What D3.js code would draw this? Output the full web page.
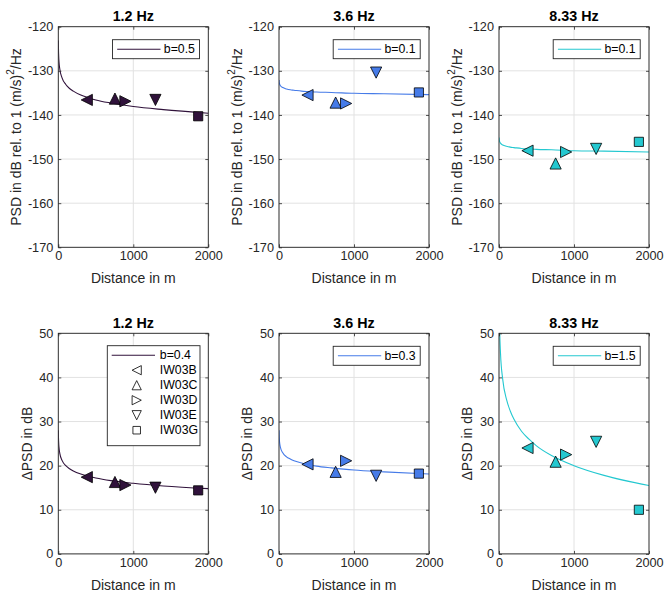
<!DOCTYPE html>
<html><head><meta charset="utf-8">
<script src="https://cdn.jsdelivr.net/npm/d3@7"></script>
<style>body{margin:0;background:#fff}</style>
</head><body><svg id="c" width="665" height="595"></svg>
<script>
// ---------- data ----------
const frequencies = ["1.2 Hz", "3.6 Hz", "8.33 Hz"];
const stations = ["IW03B", "IW03C", "IW03D", "IW03E", "IW03G"];
const stationDistance = [380, 755, 895, 1295, 1865];

const psd_1_2  = [-136.6, -136.3, -136.9, -136.6, -140.3];
const psd_3_6  = [-135.5, -137.2, -137.4, -130.4, -134.9];
const psd_8_33 = [-148.1, -151.0, -148.4, -147.7, -146.1];

const dpsd_1_2  = [17.4, 16.3, 15.6, 15.0, 14.4];
const dpsd_3_6  = [20.3, 18.6, 21.1, 17.7, 18.2];
const dpsd_8_33 = [24.0, 20.9, 22.5, 25.4, 10.0];

const curveDistance = [1, 2, 5, 10, 20, 50, 100, 150, 200, 300, 400, 500, 700, 1000, 1400, 2000];
const psdFit_1_2  = [-123.1, -124.6, -126.6, -128.1, -129.6, -131.6, -133.1, -134.0, -134.6, -135.5, -136.1, -136.6, -137.3, -138.1, -138.8, -139.6];
const psdFit_3_6  = [-132.1, -132.4, -132.8, -133.1, -133.4, -133.8, -134.1, -134.3, -134.4, -134.6, -134.7, -134.8, -134.9, -135.1, -135.2, -135.4];
const psdFit_8_33 = [-145.1, -145.4, -145.8, -146.1, -146.4, -146.8, -147.1, -147.3, -147.4, -147.6, -147.7, -147.8, -147.9, -148.1, -148.2, -148.4];
const dpsdFit_1_2  = [28.0, 26.8, 25.2, 24.0, 22.8, 21.2, 20.0, 19.3, 18.8, 18.1, 17.6, 17.2, 16.6, 16.0, 15.4, 14.8];
const dpsdFit_3_6  = [28.0, 27.1, 25.9, 25.0, 24.1, 22.9, 22.0, 21.5, 21.1, 20.6, 20.2, 19.9, 19.5, 19.0, 18.6, 18.1];
const dpsdFit_8_33 = [65.0, 60.5, 54.5, 50.0, 45.5, 39.5, 35.0, 32.4, 30.5, 27.8, 26.0, 24.5, 22.3, 20.0, 17.8, 15.5];

const psdFitLabel  = ["b=0.5", "b=0.1", "b=0.1"];
const dpsdFitLabel = ["b=0.4", "b=0.3", "b=1.5"];

const psdTicks = [-170, -160, -150, -140, -130, -120];
const dpsdTicks = [0, 10, 20, 30, 40, 50];
const distanceTicks = [0, 1000, 2000];

// ---------- styling / layout ----------
const colors = ["#30123b", "#467be8", "#24c8d0"];
const colLeft = [58.3, 279, 499];
const rowTop = [26.7, 333.3];
const W = 150, H = 220.6;
const FONT = "'Liberation Sans', Arial, Helvetica, sans-serif";
const AX = "#262626";

const svg = d3.select("#c");
const defs = svg.append("defs");

function markerPath(shape, s) {
  // s: half-size
  const p = d3.path();
  if (shape === 0) { p.moveTo(-s, 0); p.lineTo(s, -s); p.lineTo(s, s); p.closePath(); }
  else if (shape === 1) { p.moveTo(0, -s); p.lineTo(s, s); p.lineTo(-s, s); p.closePath(); }
  else if (shape === 2) { p.moveTo(s, 0); p.lineTo(-s, -s); p.lineTo(-s, s); p.closePath(); }
  else if (shape === 3) { p.moveTo(0, s); p.lineTo(s, -s); p.lineTo(-s, -s); p.closePath(); }
  else { const q = s * 0.82; p.rect(-q, -q, 2 * q, 2 * q); }
  return p.toString();
}

const panels = [
  { row: 0, col: 0, vals: psd_1_2,  fit: psdFit_1_2,  lab: psdFitLabel[0] },
  { row: 0, col: 1, vals: psd_3_6,  fit: psdFit_3_6,  lab: psdFitLabel[1] },
  { row: 0, col: 2, vals: psd_8_33, fit: psdFit_8_33, lab: psdFitLabel[2] },
  { row: 1, col: 0, vals: dpsd_1_2,  fit: dpsdFit_1_2,  lab: dpsdFitLabel[0], full: true },
  { row: 1, col: 1, vals: dpsd_3_6,  fit: dpsdFit_3_6,  lab: dpsdFitLabel[1] },
  { row: 1, col: 2, vals: dpsd_8_33, fit: dpsdFit_8_33, lab: dpsdFitLabel[2] },
];

panels.forEach((p, i) => {
  const x0 = colLeft[p.col], y0 = rowTop[p.row];
  const color = colors[p.col];
  const ticks = p.row === 0 ? psdTicks : dpsdTicks;
  const x = d3.scaleLinear().domain([0, 2000]).range([0, W]);
  const y = d3.scaleLinear().domain(d3.extent(ticks)).range([H, 0]);
  const g = svg.append("g").attr("transform", `translate(${x0},${y0})`);

  // grid
  g.append("g").selectAll("line.gx").data(distanceTicks).join("line")
    .attr("x1", d => x(d)).attr("x2", d => x(d)).attr("y1", 0).attr("y2", H)
    .attr("stroke", "#e2e2e2").attr("stroke-width", 1);
  g.append("g").selectAll("line.gy").data(ticks).join("line")
    .attr("y1", d => y(d)).attr("y2", d => y(d)).attr("x1", 0).attr("x2", W)
    .attr("stroke", "#e2e2e2").attr("stroke-width", 1);

  // clip
  const cid = "clip" + i;
  defs.append("clipPath").attr("id", cid).append("rect").attr("width", W).attr("height", H);

  // fit curve
  const line = d3.line().x((d, k) => x(curveDistance[k])).y(d => y(d)).curve(d3.curveMonotoneX);
  g.append("path").attr("clip-path", `url(#${cid})`).datum(p.fit)
    .attr("d", line).attr("fill", "none").attr("stroke", color).attr("stroke-width", 1.1);

  // markers
  g.append("g").selectAll("path").data(p.vals).join("path")
    .attr("transform", (d, k) => `translate(${x(stationDistance[k])},${y(d)})`)
    .attr("d", (d, k) => markerPath(k, 5.6))
    .attr("fill", color).attr("stroke", "#000").attr("stroke-width", 0.8)
    .attr("stroke-linejoin", "miter");

  // axes
  const fmt = d => String(d);
  const axL = g.append("g").call(d3.axisLeft(y).tickValues(ticks).tickFormat(fmt).tickSizeInner(-3).tickSizeOuter(0).tickPadding(5));
  const axB = g.append("g").attr("transform", `translate(0,${H})`).call(d3.axisBottom(x).tickValues(distanceTicks).tickFormat(fmt).tickSizeInner(-3).tickSizeOuter(0).tickPadding(4));
  const axR = g.append("g").attr("transform", `translate(${W},0)`).call(d3.axisRight(y).tickValues(ticks).tickFormat("").tickSizeInner(-3).tickSizeOuter(0));
  const axT = g.append("g").call(d3.axisTop(x).tickValues(distanceTicks).tickFormat("").tickSizeInner(-3).tickSizeOuter(0));
  [axL, axB, axR, axT].forEach(a => {
    a.select(".domain").remove();
    a.selectAll("line").attr("stroke", AX).attr("stroke-width", 0.8);
    a.selectAll("text").attr("fill", AX).style("font-family", FONT).style("font-size", "12.7px");
  });
  g.append("rect").attr("width", W).attr("height", H).attr("fill", "none")
    .attr("stroke", AX).attr("stroke-width", 0.9);

  // title
  g.append("text").attr("x", W / 2).attr("y", -10.5).attr("text-anchor", "middle")
    .attr("dominant-baseline", "central")
    .style("font-family", FONT).style("font-size", "14.3px").style("font-weight", "bold")
    .attr("fill", "#000").text(frequencies[p.col]);

  // x label
  g.append("text").attr("x", W / 2).attr("y", H + 31).attr("text-anchor", "middle")
    .attr("dominant-baseline", "central")
    .style("font-family", FONT).style("font-size", "14px").attr("fill", AX).text("Distance in m");

  // y label
  const yl = g.append("text")
    .attr("transform", `translate(${p.row === 0 ? -42.3 : -31.6},${H / 2}) rotate(-90)`)
    .attr("text-anchor", "middle").attr("dominant-baseline", "central")
    .style("font-family", FONT).style("font-size", "14px").attr("fill", AX);
  if (p.row === 0) {
    yl.append("tspan").text("PSD in dB rel. to 1 (m/s)");
    yl.append("tspan").attr("baseline-shift", "super").style("font-size", "10px").text("2");
    yl.append("tspan").text("/Hz");
  } else {
    yl.text("\u0394PSD in dB");
  }

  // legend
  const lg = g.append("g");
  const LF = "12.3px";
  if (p.full) {
    const bx = W - 8.3 - 92.7, by = 12.4, bw = 92.7, bh = 100;
    lg.append("rect").attr("x", bx).attr("y", by).attr("width", bw).attr("height", bh)
      .attr("fill", "#fff").attr("stroke", AX).attr("stroke-width", 0.9);
    const ry = by + 9.5;
    lg.append("line").attr("x1", bx + 4.4).attr("x2", bx + 47.7).attr("y1", ry).attr("y2", ry)
      .attr("stroke", color).attr("stroke-width", 1.1);
    lg.append("text").attr("x", bx + 52.5).attr("y", ry).attr("dominant-baseline", "central")
      .style("font-family", FONT).style("font-size", LF).attr("fill", "#000").text(p.lab);
    stations.forEach((s, k) => {
      const yy = ry + 15 * (k + 1);
      lg.append("path").attr("transform", `translate(${bx + 29.4},${yy})`)
        .attr("d", markerPath(k, 4.6)).attr("fill", "none").attr("stroke", "#000").attr("stroke-width", 0.8);
      lg.append("text").attr("x", bx + 52.5).attr("y", yy).attr("dominant-baseline", "central")
        .style("font-family", FONT).style("font-size", LF).attr("fill", "#000").text(s);
    });
  } else {
    const bw = 87, bh = 19, bx = W - 8.8 - bw, by = 13;
    lg.append("rect").attr("x", bx).attr("y", by).attr("width", bw).attr("height", bh)
      .attr("fill", "#fff").attr("stroke", AX).attr("stroke-width", 0.9);
    const ry = by + bh / 2;
    lg.append("line").attr("x1", bx + 4.7).attr("x2", bx + 48).attr("y1", ry).attr("y2", ry)
      .attr("stroke", color).attr("stroke-width", 1.1);
    lg.append("text").attr("x", bx + 51.3).attr("y", ry).attr("dominant-baseline", "central")
      .style("font-family", FONT).style("font-size", LF).attr("fill", "#000").text(p.lab);
  }
});
</script></body></html>
